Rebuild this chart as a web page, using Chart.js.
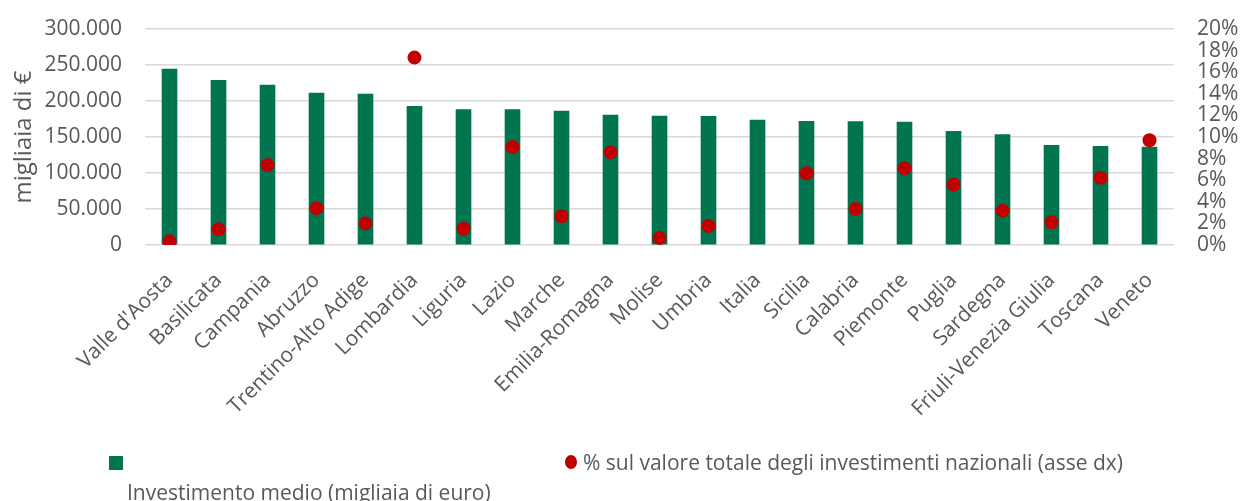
<!DOCTYPE html>
<html>
<head>
<meta charset="utf-8">
<script src="https://cdn.jsdelivr.net/npm/chart.js@4"></script>
<style>
  html, body { margin: 0; padding: 0; background: #fff; }
  #wrap { position: relative; width: 1241px; height: 501px; }
  canvas { position: absolute; left: 0; top: 0; }
  .lg { position: absolute; font-family: "Open Sans", sans-serif; font-size: 21px; line-height: 28px; color: #595959; white-space: nowrap; }
</style>
</head>
<body>
<div id="wrap">
  <canvas id="c" width="1241" height="501"></canvas>
  <div class="lg" style="left:109px;top:456px;width:14px;height:14px;background:#00754F;"></div>
  <div class="lg" style="left:127px;top:478px;">Investimento medio (migliaia di euro)</div>
  <div class="lg" style="left:565px;top:455px;width:12px;height:14px;border-radius:50%;background:#C00000;"></div>
  <div class="lg" style="left:583px;top:448px;">% sul valore totale degli investimenti nazionali (asse dx)</div>
</div>
<script>
const categories = ["Valle d'Aosta","Basilicata","Campania","Abruzzo","Trentino-Alto Adige","Lombardia","Liguria","Lazio","Marche","Emilia-Romagna","Molise","Umbria","Italia","Sicilia","Calabria","Piemonte","Puglia","Sardegna","Friuli-Venezia Giulia","Toscana","Veneto"];
const investimentoMedio = [244400, 228700, 222200, 211000, 209700, 192600, 188000, 188000, 186000, 180500, 179000, 178700, 173600, 171800, 171300, 170800, 157900, 153200, 138400, 137000, 136000];
const quotaNazionale = [0.34, 1.45, 7.4, 3.4, 2.0, 17.35, 1.5, 9.07, 2.66, 8.58, 0.65, 1.76, null, 6.64, 3.33, 7.1, 5.6, 3.18, 2.1, 6.23, 9.7];
const leftTicks = [0, 50000, 100000, 150000, 200000, 250000, 300000];
const rightTicks = [0, 2, 4, 6, 8, 10, 12, 14, 16, 18, 20];

const fmtIt = v => String(v).replace(/\B(?=(\d{3})+(?!\d))/g, '.');
const FONT = "'Open Sans', sans-serif";
const GREY = '#595959';

new Chart(document.getElementById('c'), {
  data: {
    labels: categories,
    datasets: [
      {
        type: 'line',
        label: '% sul valore totale degli investimenti nazionali (asse dx)',
        data: quotaNazionale,
        yAxisID: 'y1',
        showLine: false,
        pointRadius: 7,
        pointHoverRadius: 7,
        pointBackgroundColor: '#C00000',
        pointBorderWidth: 0,
        borderColor: '#C00000',
        order: 0
      },
      {
        type: 'bar',
        label: 'Investimento medio (migliaia di euro)',
        data: investimentoMedio,
        yAxisID: 'y',
        backgroundColor: '#00754F',
        barThickness: 15,
        order: 1
      }
    ]
  },
  options: {
    responsive: false,
    animation: false,
    layout: { padding: { top: 29, left: 0, right: 0, bottom: 0 } },
    plugins: { legend: { display: false }, tooltip: { enabled: false } },
    scales: {
      x: {
        offset: true,
        grid: { display: false, drawTicks: false },
        border: { display: false },
        ticks: {
          color: GREY,
          font: { family: FONT, size: 21 },
          maxRotation: 45, minRotation: 45,
          autoSkip: false,
          padding: 23
        },
        afterFit: s => { s.height = 256; }
      },
      y: {
        position: 'left',
        min: 0, max: 300000,
        afterBuildTicks: s => { s.ticks = leftTicks.map(v => ({ value: v })); },
        grid: { color: '#D9D9D9', lineWidth: 1.5, drawTicks: true, tickLength: 23, tickColor: 'transparent' },
        border: { display: false },
        ticks: {
          color: GREY,
          font: { family: FONT, size: 21 },
          padding: 0,
          callback: v => fmtIt(v)
        },
        title: {
          display: true,
          text: 'migliaia di €',
          color: GREY,
          font: { family: FONT, size: 24 },
          padding: { top: 10, bottom: 0 }
        },
        afterFit: s => { s.width = 145; }
      },
      y1: {
        position: 'right',
        min: 0, max: 20,
        afterBuildTicks: s => { s.ticks = rightTicks.map(v => ({ value: v })); },
        grid: { display: true, drawOnChartArea: false, drawTicks: true, tickLength: 23, tickColor: 'transparent', color: 'transparent' },
        border: { display: false },
        ticks: {
          color: GREY,
          font: { family: FONT, size: 21 },
          padding: 0,
          autoSkip: false,
          callback: v => v + '%'
        },
        afterFit: s => { s.width = 67; }
      }
    }
  }
});
</script>
</body>
</html>
